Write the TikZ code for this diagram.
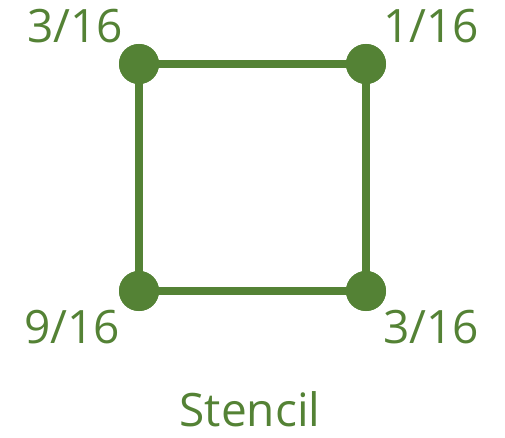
\documentclass[tikz,border=0pt]{standalone}
\usepackage{fontspec}
\setmainfont{Open Sans}
\definecolor{stgreen}{HTML}{548235}
\begin{document}
\begin{tikzpicture}[x=1pt,y=-1pt,
  dot/.style={circle,fill=stgreen,minimum size=40pt,inner sep=0pt},
  lbl/.style={text=stgreen,font=\fontsize{46}{50}\selectfont,inner sep=0pt,anchor=base},
  edge/.style={draw=stgreen,line width=8.5pt}]
\useasboundingbox (0,0) rectangle (505,438);
\node[dot] (tl) at (139,64) {};
\node[dot] (tr) at (366,64) {};
\node[dot] (bl) at (139,291) {};
\node[dot] (br) at (366,291) {};
\draw[edge] (tl.center) -- (tr.center) -- (br.center) -- (bl.center) -- cycle;
\node[dot] at (tl) {};
\node[dot] at (tr) {};
\node[dot] at (bl) {};
\node[dot] at (br) {};
\node[lbl] (ltl) at (75,43) {3/16};
\node[lbl] (ltr) at (431,43) {1/16};
\node[lbl] (lbl) at (72,343) {9/16};
\node[lbl] (lbr) at (431,343) {3/16};
\node[lbl] (cap) at (250,426) {Stencil};
\end{tikzpicture}
\end{document}
